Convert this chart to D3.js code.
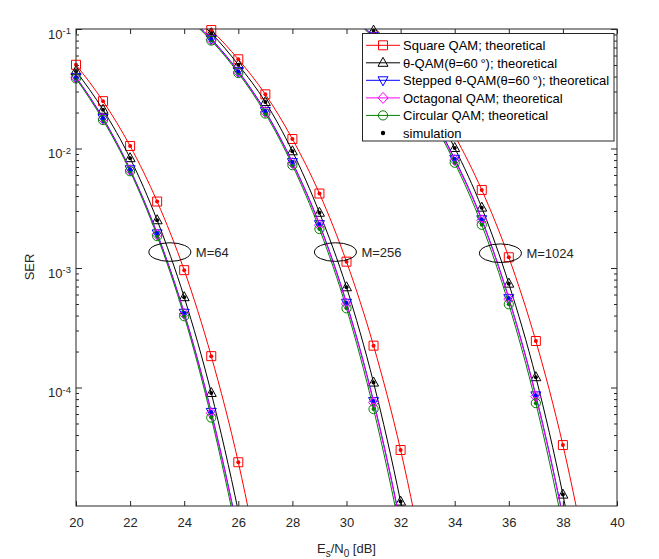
<!DOCTYPE html>
<html><head><meta charset="utf-8">
<script src="https://cdn.jsdelivr.net/npm/d3@7"></script>
<style>body{margin:0;background:#fff} svg{display:block;font-family:"Liberation Sans",Arial,sans-serif}</style>
</head><body>
<svg id="chart" width="659" height="559"></svg>
<script>
// ---- data ----
const snr64   = [20,21,22,23,24,25,26,27];
const snr256  = [24,25,26,27,28,29,30,31,32,33];
const snr1024 = [30,31,32,33,34,35,36,37,38,39];

const square64    = [0.0502,0.0249,0.0105,3.6e-3,9.6e-4,1.83e-4,2.37e-5,1.8e-6];
const theta64     = [0.0444,0.0211,8.3e-3,2.51e-3,5.7e-4,9.0e-5,9.2e-6,6e-7];
const stepped64   = [0.0396,0.0180,6.7e-3,1.95e-3,4.22e-4,6.25e-5,6.0e-6,3.5e-7];
const octagonal64 = [0.0392,0.0177,6.6e-3,1.91e-3,4.13e-4,6.1e-5,5.8e-6,3.3e-7];
const circular64  = [0.0386,0.0173,6.45e-3,1.85e-3,3.95e-4,5.6e-5,5.1e-6,2.8e-7];

const square256    = [0.154,0.098,0.0558,0.0284,0.0120,4.2e-3,1.13e-3,2.24e-4,3.0e-5,2.4e-6];
const theta256     = [0.145,0.0923,0.0502,0.0245,9.48e-3,2.9e-3,6.9e-4,1.10e-4,1.11e-5,7e-7];
const stepped256   = [0.135,0.0828,0.0444,0.0206,7.7e-3,2.33e-3,5.12e-4,7.7e-5,7.2e-6,4e-7];
const octagonal256 = [0.133,0.0815,0.0437,0.0202,7.55e-3,2.28e-3,5.0e-4,7.5e-5,7.0e-6,3.8e-7];
const circular256  = [0.131,0.080,0.0428,0.0196,7.25e-3,2.12e-3,4.6e-4,6.6e-5,6.0e-6,3.3e-7];

const square1024    = [0.161,0.104,0.0594,0.0299,0.0128,4.5e-3,1.23e-3,2.45e-4,3.3e-5,2.7e-6];
const theta1024     = [0.152,0.097,0.054,0.0258,0.0101,3.2e-3,7.4e-4,1.22e-4,1.27e-5,8e-7];
const stepped1024   = [0.141,0.087,0.0477,0.0216,8.2e-3,2.56e-3,5.6e-4,8.6e-5,8.3e-6,4.5e-7];
const octagonal1024 = [0.138,0.0853,0.0467,0.0212,8.0e-3,2.51e-3,5.5e-4,8.4e-5,8.1e-6,4.4e-7];
const circular1024  = [0.137,0.084,0.0458,0.0203,7.6e-3,2.3e-3,4.97e-4,7.4e-5,6.8e-6,3.6e-7];

const legendLabels = ["Square QAM; theoretical","θ-QAM(θ=60\u2009°); theoretical","Stepped θ-QAM(θ=60\u2009°); theoretical","Octagonal QAM; theoretical","Circular QAM; theoretical","simulation"];
const xTicks = [20,22,24,26,28,30,32,34,36,38,40];
const yMajor = [1e-1,1e-2,1e-3,1e-4];
const annoX = [23.47,29.59,35.69];
const annoY = [1.36e-3,1.36e-3,1.33e-3];
const annoLabel = ["M=64","M=256","M=1024"];

// ---- styling / layout ----
const schemes = [
  {color:"#ff0000", marker:"square",  sets:[[snr64,square64],[snr256,square256],[snr1024,square1024]]},
  {color:"#000000", marker:"tri",     sets:[[snr64,theta64],[snr256,theta256],[snr1024,theta1024]]},
  {color:"#0000ff", marker:"tridown", sets:[[snr64,stepped64],[snr256,stepped256],[snr1024,stepped1024]]},
  {color:"#ff00ff", marker:"diamond", sets:[[snr64,octagonal64],[snr256,octagonal256],[snr1024,octagonal1024]]},
  {color:"#008000", marker:"circle",  sets:[[snr64,circular64],[snr256,circular256],[snr1024,circular1024]]}
];
const L=76,R=617,T=29,B=506;
const ink="#262626";
const svg=d3.select("#chart");
const x=d3.scaleLinear().domain([20,40]).range([L,R]);
const y=d3.scaleLog().domain([1.02e-5,0.1]).range([B,T]);

function markerPath(type){
  switch(type){
    case "square": return "M-4.5,-4.5H4.5V4.5H-4.5Z";
    case "tri": return "M0,-5.5L5,3.5L-5,3.5Z";
    case "tridown": return "M0,5.5L5,-3.5L-5,-3.5Z";
    case "diamond": return "M0,-5.5L5,0L0,5.5L-5,0Z";
    case "circle": return d3.symbol(d3.symbolCircle,Math.PI*4.6*4.6)();
  }
}

svg.append("defs").append("clipPath").attr("id","plotclip")
  .append("rect").attr("x",L).attr("y",T).attr("width",R-L).attr("height",B-T);

// axes (ticks inward)
const gx=svg.append("g").attr("transform",`translate(0,${B})`)
  .call(d3.axisBottom(x).tickValues(xTicks).tickSize(-5).tickPadding(12).tickFormat(d3.format("d")));
const gxt=svg.append("g").attr("transform",`translate(0,${T})`)
  .call(d3.axisTop(x).tickValues(xTicks).tickSize(-5).tickFormat(""));
const minor=[];
for(let e=-5;e<=-2;e++) for(let k=2;k<=9;k++){const v=k*Math.pow(10,e); if(v>=y.domain()[0]&&v<=0.1) minor.push(v);}
const gy=svg.append("g").attr("transform",`translate(${L},0)`)
  .call(d3.axisLeft(y).tickValues(yMajor).tickSize(-6).tickFormat(""));
const gym=svg.append("g").attr("transform",`translate(${L},0)`)
  .call(d3.axisLeft(y).tickValues(minor).tickSize(-3).tickFormat(""));
const gyr=svg.append("g").attr("transform",`translate(${R},0)`)
  .call(d3.axisRight(y).tickValues(yMajor).tickSize(-6).tickFormat(""));
const gyrm=svg.append("g").attr("transform",`translate(${R},0)`)
  .call(d3.axisRight(y).tickValues(minor).tickSize(-3).tickFormat(""));
[gx,gxt,gy,gym,gyr,gyrm].forEach(g=>{
  g.select(".domain").remove();
  g.selectAll("line").attr("stroke",ink);
  g.selectAll("text").attr("fill",ink).attr("font-size",13).attr("font-family","Liberation Sans, Arial, sans-serif");
});
// y tick labels 10^e
yMajor.forEach(v=>{
  const e=Math.round(Math.log10(v));
  const t=svg.append("text").attr("x",71).attr("y",y(v)+9.5).attr("text-anchor","end")
    .attr("fill",ink).attr("font-size",13);
  t.append("tspan").text("10");
  t.append("tspan").attr("dy",-4.5).attr("font-size",9.5).text(String(e));
});

// curves
const plot=svg.append("g");
const line=d3.line().x(d=>x(d[0])).y(d=>y(d[1])).curve(d3.curveMonotoneX);
schemes.forEach(s=>{
  s.sets.forEach(([xs,vs])=>{
    const pts=xs.map((v,i)=>[v,vs[i]]);
    plot.append("path").attr("clip-path","url(#plotclip)").attr("d",line(pts))
      .attr("fill","none").attr("stroke",s.color).attr("stroke-width",1);
    plot.selectAll(null).data(pts.filter(p=>p[1]>=y.domain()[0]&&p[1]<=0.1&&p[0]>=20&&p[0]<=40))
      .enter().append("path").attr("d",markerPath(s.marker))
      .attr("transform",p=>`translate(${x(p[0])},${y(p[1])})`)
      .attr("fill","none").attr("stroke",s.color).attr("stroke-width",1);
  });
});
// simulation dots (drawn over theoretical markers)
[0,1,3,4,2].forEach(i=>{
  const s=schemes[i];
  s.sets.forEach(([xs,vs])=>{
    const pts=xs.map((v,j)=>[v,vs[j]]).filter(p=>p[1]>=y.domain()[0]&&p[1]<=0.1);
    plot.selectAll(null).data(pts).enter().append("circle")
      .attr("cx",p=>x(p[0])).attr("cy",p=>y(p[1])).attr("r",2).attr("fill",s.color);
  });
});

// box
svg.append("rect").attr("x",L).attr("y",T).attr("width",R-L).attr("height",B-T)
  .attr("fill","none").attr("stroke",ink).attr("stroke-width",1);

// annotations
annoX.forEach((ax,i)=>{
  svg.append("ellipse").attr("cx",x(ax)).attr("cy",y(annoY[i])).attr("rx",21).attr("ry",9.3)
    .attr("fill","none").attr("stroke","#000").attr("stroke-width",1);
  svg.append("text").attr("x",x(ax)+26).attr("y",y(annoY[i])+5).attr("font-size",13).attr("fill",ink).text(annoLabel[i]);
});

// axis labels
const xl=svg.append("text").attr("x",(L+R)/2).attr("y",553).attr("text-anchor","middle").attr("font-size",13).attr("fill",ink);
xl.append("tspan").text("E");
xl.append("tspan").attr("dy",4).attr("font-size",10).text("s");
xl.append("tspan").attr("dy",-4).text("/N");
xl.append("tspan").attr("dy",4).attr("font-size",10).text("0");
xl.append("tspan").attr("dy",-4).text(" [dB]");
svg.append("text").attr("transform",`translate(34,267) rotate(-90)`).attr("text-anchor","middle")
  .attr("font-size",13).attr("fill",ink).text("SER");

// legend
const lg=svg.append("g");
lg.append("rect").attr("x",362.5).attr("y",33.5).attr("width",251.5).attr("height",107.5)
  .attr("fill","#fff").attr("stroke",ink).attr("stroke-width",1);
const rowY=[45.3,62.8,80.3,97.9,115.4,133];
legendLabels.forEach((lab,i)=>{
  const cy=rowY[i];
  if(i<5){
    const s=schemes[i];
    lg.append("line").attr("x1",366).attr("x2",400).attr("y1",cy).attr("y2",cy).attr("stroke",s.color);
    lg.append("path").attr("d",markerPath(s.marker)).attr("transform",`translate(383,${cy})`)
      .attr("fill","none").attr("stroke",s.color);
  } else {
    lg.append("circle").attr("cx",383).attr("cy",cy).attr("r",2.2).attr("fill","#000");
  }
  lg.append("text").attr("x",403).attr("y",cy+4.7).attr("font-size",13).attr("fill","#000").text(lab);
});
</script>
</body></html>
